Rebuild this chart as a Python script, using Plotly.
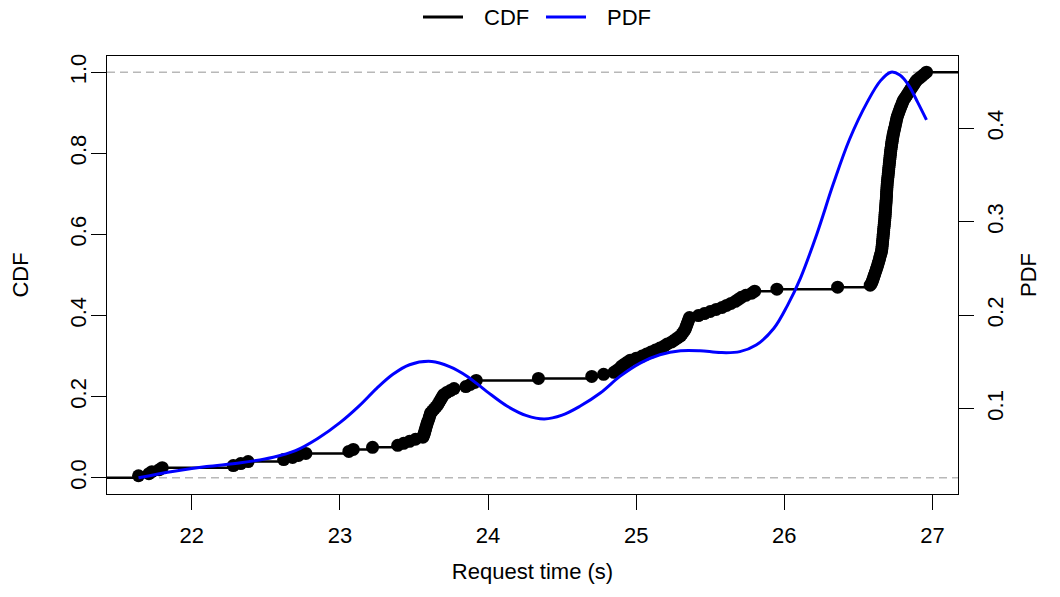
import numpy as np
import plotly.graph_objects as go

# Sorted request-time sample (seconds), read from the ECDF
request_times = [
    21.64, 21.71, 21.73, 21.78, 21.80,
    22.28, 22.33, 22.38,
    22.62, 22.68, 22.72, 22.77,
    23.06, 23.09, 23.22,
    23.39, 23.43, 23.47, 23.51, 23.56,
    23.565, 23.570, 23.574, 23.578, 23.582,
    23.586, 23.590, 23.595, 23.600, 23.604, 23.608, 23.612,
    23.625, 23.637, 23.649, 23.660,
    23.668, 23.676, 23.684, 23.692, 23.700,
    23.720, 23.745, 23.770,
    23.85, 23.88, 23.91, 23.92,
    24.34, 24.70, 24.78,
    24.85, 24.87, 24.89, 24.90, 24.92, 24.94, 24.96, 25.00, 25.04, 25.07,
    25.10, 25.13, 25.16, 25.19, 25.21, 25.24, 25.26, 25.28, 25.30, 25.31,
    25.32, 25.33, 25.335, 25.34, 25.345, 25.35, 25.355, 25.36,
    25.42, 25.46, 25.50, 25.54, 25.58, 25.61, 25.64, 25.67, 25.69, 25.71,
    25.74, 25.78, 25.80, 25.95, 26.36, 26.58,
    26.590, 26.595, 26.600, 26.604, 26.609, 26.613, 26.618, 26.622, 26.627,
    26.631, 26.635, 26.639, 26.643, 26.646, 26.650, 26.654, 26.657,
    26.659, 26.660, 26.662, 26.663, 26.664, 26.666, 26.667, 26.668,
    26.670, 26.671, 26.672, 26.674, 26.675, 26.676, 26.678, 26.679,
    26.680, 26.681, 26.682, 26.683, 26.684, 26.685, 26.686, 26.687, 26.688,
    26.689, 26.690, 26.690, 26.691, 26.692, 26.693, 26.694, 26.695,
    26.696, 26.698, 26.699, 26.701, 26.702, 26.704, 26.705, 26.706,
    26.708, 26.709, 26.711, 26.712, 26.714, 26.715, 26.717, 26.718,
    26.720, 26.722, 26.724, 26.726, 26.728, 26.730, 26.733, 26.735,
    26.738, 26.741, 26.744, 26.747, 26.750, 26.753, 26.756, 26.759, 26.762,
    26.767, 26.772, 26.777, 26.782, 26.787, 26.793, 26.798, 26.803,
    26.812, 26.821, 26.830, 26.839, 26.848,
    26.857, 26.866, 26.875, 26.884, 26.893,
    26.910, 26.927, 26.944, 26.960,
]

# Density curve
pdf_x = [21.64, 21.88, 22.10, 22.33, 22.55, 22.70, 22.85, 23.00, 23.13, 23.25,
         23.36, 23.47, 23.62, 23.74, 23.86, 23.99, 24.13, 24.26, 24.38, 24.50,
         24.62, 24.76, 24.89, 25.03, 25.16, 25.30, 25.43, 25.57, 25.70, 25.81,
         25.93, 26.02, 26.11, 26.22, 26.33, 26.44, 26.56, 26.65, 26.72, 26.78,
         26.84, 26.90, 26.96]
pdf_y = [0.026, 0.033, 0.038, 0.042, 0.048, 0.055, 0.068, 0.085, 0.103, 0.122,
         0.137, 0.147, 0.1505, 0.145, 0.1345, 0.1185, 0.1025, 0.0925, 0.089, 0.093,
         0.1025, 0.117, 0.1345, 0.149, 0.1577, 0.162, 0.162, 0.160, 0.161, 0.168,
         0.186, 0.210, 0.240, 0.287, 0.340, 0.388, 0.428, 0.451, 0.460, 0.457,
         0.446, 0.428, 0.409]

x_ticks = [22, 23, 24, 25, 26, 27]
cdf_ticks = [0.0, 0.2, 0.4, 0.6, 0.8, 1.0]
cdf_tick_labels = ["0.0", "0.2", "0.4", "0.6", "0.8", "1.0"]
pdf_ticks = [0.1, 0.2, 0.3, 0.4]
pdf_tick_labels = ["0.1", "0.2", "0.3", "0.4"]
legend_names = ["CDF", "PDF"]
legend_colors = ["black", "#0000FF"]

t = np.array(request_times)
n = len(t)
cdf = np.arange(1, n + 1) / n

# R-style 4% axis padding
span = t.max() - t.min()
x_lo, x_hi = t.min() - 0.04 * span, t.max() + 0.04 * span
pmin, pmax = min(pdf_y), max(pdf_y)
pspan = pmax - pmin
p_lo, p_hi = pmin - 0.04 * pspan, pmax + 0.04 * pspan

FONT = "Liberation Sans, Arial, Helvetica, sans-serif"
FS = 22
W, H = 1060, 597
ML, MR, MT, MB = 107, 102, 56, 103
PW, PH = W - ML - MR, H - MT - MB

fig = go.Figure()

# ECDF step line
fig.add_trace(go.Scatter(
    x=np.concatenate([[x_lo], t, [x_hi]]),
    y=np.concatenate([[0.0], cdf, [1.0]]),
    mode="lines", line=dict(color="black", width=2.5, shape="hv"),
    name="CDF", showlegend=False, hoverinfo="skip",
))
fig.add_trace(go.Scatter(
    x=t, y=cdf, mode="markers",
    marker=dict(color="black", size=13, line=dict(width=0)),
    showlegend=False, name="CDF points",
))
fig.add_trace(go.Scatter(
    x=pdf_x, y=pdf_y, yaxis="y2", mode="lines",
    line=dict(color="#0000FF", width=3, shape="spline", smoothing=1.0),
    name="PDF", showlegend=False,
))

for yv in (0.0, 1.0):
    fig.add_shape(type="line", xref="paper", x0=0, x1=1, yref="y", y0=yv, y1=yv,
                  line=dict(color="#B8B8B8", width=1.5, dash="8px,5px"), layer="below")

# Legend above the plot (R style: 40px line, gap, label)
def px_x(p):
    return (p - ML) / PW

def px_y(p):
    return (H - MB - p) / PH

leg_y = 17
leg_line_starts = [423, 546]
for name, col, x0 in zip(legend_names, legend_colors, leg_line_starts):
    fig.add_shape(type="line", xref="paper", yref="paper",
                  x0=px_x(x0), x1=px_x(x0 + 40), y0=px_y(leg_y), y1=px_y(leg_y),
                  line=dict(color=col, width=3))
    fig.add_annotation(xref="paper", yref="paper", x=px_x(x0 + 59), y=px_y(leg_y),
                       text=name, showarrow=False, xanchor="left", yanchor="middle",
                       font=dict(family=FONT, size=FS, color="black"))

axis_common = dict(
    showgrid=False, zeroline=False, ticks="outside", ticklen=15, tickwidth=1,
    tickcolor="black", showline=True, linecolor="black", linewidth=1,
    tickfont=dict(family=FONT, size=FS, color="black"),
)

fig.update_layout(
    width=W, height=H,
    margin=dict(l=ML, r=MR, t=MT, b=MB),
    paper_bgcolor="white", plot_bgcolor="white",
    font=dict(family=FONT, color="black", size=FS),
    xaxis=dict(range=[x_lo, x_hi], tickvals=x_ticks, mirror=True,
               ticklabelstandoff=7,
               title=dict(text="Request time (s)", font=dict(size=FS), standoff=16),
               **axis_common),
    yaxis=dict(range=[-0.04, 1.04], tickvals=cdf_ticks, ticktext=cdf_tick_labels,
               tickangle=-90, mirror=True, ticklabelstandoff=-4,
               title=dict(text="CDF", font=dict(size=FS), standoff=31),
               **axis_common),
    yaxis2=dict(range=[p_lo, p_hi], tickvals=pdf_ticks, ticktext=pdf_tick_labels,
                tickangle=-90, overlaying="y", side="right", ticklabelstandoff=3,
                title=dict(text="PDF", font=dict(size=FS), standoff=13),
                **axis_common),
    showlegend=False,
)

fig.write_html("out.html")
